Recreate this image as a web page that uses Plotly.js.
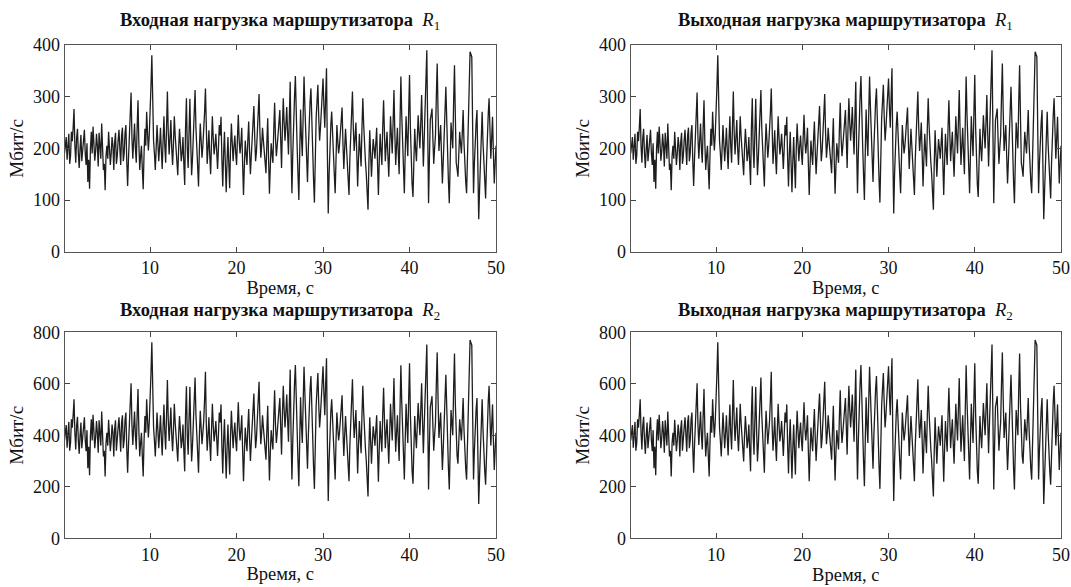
<!DOCTYPE html>
<html>
<head>
<meta charset="utf-8">
<script src="https://cdn.plot.ly/plotly-3.0.1.min.js"></script>
<style>html,body{margin:0;padding:0;background:#fff;}#chart{width:1071px;height:587px;}</style>
</head>
<body>
<div id="chart"></div>
<script>
const inR1 = [
190,205,222,178,196,228,170,186,232,214,
240,276,205,172,220,238,190,162,200,226,
175,198,215,236,190,168,210,135,178,122,
200,232,190,242,210,176,195,228,205,165,
230,212,180,248,200,158,170,119,185,205,
180,232,200,168,190,222,205,158,212,230,
170,185,215,236,200,168,225,240,175,190,
230,245,175,127,180,232,260,308,220,180,
215,248,200,172,240,293,210,158,185,205,
160,121,190,238,205,271,230,196,225,262,
320,380,260,215,190,158,200,245,210,175,
205,240,195,160,215,262,205,172,240,310,
230,188,220,255,200,168,210,262,225,205,
175,148,200,238,210,175,190,222,170,129,
240,297,200,162,230,296,210,148,180,235,
260,313,240,205,160,126,200,248,215,182,
205,228,270,316,220,170,200,235,185,150,
210,262,220,188,205,228,195,160,200,245,
225,261,180,126,190,232,170,115,175,222,
170,123,200,248,210,175,205,225,190,168,
220,265,215,190,210,240,170,110,165,215,
190,168,215,252,195,150,185,230,250,282,
220,175,195,225,260,305,230,182,205,240,
215,195,170,152,210,258,180,112,165,210,
190,172,235,288,220,185,205,238,250,274,
200,162,240,297,250,215,245,280,230,188,
260,329,200,113,190,262,300,340,250,205,
150,100,190,275,220,185,265,339,280,232,
180,135,200,262,290,316,240,180,140,95,
190,258,290,323,260,215,240,270,300,335,
280,240,300,355,190,74,150,218,245,271,
220,182,150,113,190,245,215,190,205,225,
250,279,210,160,200,238,205,175,140,110,
180,230,270,310,240,195,220,250,190,126,
180,228,195,165,240,297,245,200,175,150,
120,81,170,235,190,145,185,218,200,180,
210,240,170,110,175,228,195,168,240,293,
230,175,205,232,185,145,200,262,225,190,
250,313,230,168,205,240,190,150,250,339,
265,205,160,113,190,262,220,185,270,342,
240,150,130,106,170,238,200,175,220,264,
230,200,250,303,230,165,220,280,340,390,
240,94,180,255,265,277,220,170,200,225,
300,364,270,195,220,245,185,132,175,210,
270,319,240,180,135,94,175,250,225,200,
290,361,260,172,160,145,190,232,210,190,
230,274,210,160,135,113,185,252,320,387,
382,377,240,113,170,225,250,274,160,63,
120,175,225,271,210,160,130,103,170,232,
265,297,235,180,220,261,190,132,170,205
];
// Input load of router R2, Mbit/s, sampled every 0.1 s
const inR2 = [
380,408,440,352,392,452,340,370,462,430,
478,540,410,345,438,472,380,328,400,450,
350,395,430,470,380,338,420,272,355,245,
400,462,380,480,418,350,392,455,410,332,
458,420,360,492,400,318,340,240,370,410,
360,460,398,338,380,442,410,318,425,458,
340,372,430,470,398,336,450,478,350,380,
460,488,350,255,360,462,520,602,440,362,
430,492,400,345,478,580,420,318,370,410,
320,240,380,475,410,540,460,392,450,522,
640,761,520,430,380,318,400,488,420,350,
410,478,390,322,430,520,410,345,478,615,
460,378,440,508,400,338,420,522,450,410,
350,298,400,475,420,350,380,442,340,260,
480,590,400,325,460,588,420,298,360,470,
520,624,480,410,320,255,400,495,430,365,
410,455,540,647,440,340,400,470,370,300,
420,522,440,376,410,455,390,320,400,488,
450,520,360,252,380,462,340,232,350,442,
340,248,400,495,420,350,410,450,380,338,
440,528,430,380,420,478,340,222,330,430,
380,338,430,502,390,300,370,460,500,562,
440,350,390,450,520,608,460,365,410,478,
430,390,340,305,420,515,360,225,330,420,
380,345,470,575,440,370,410,475,500,545,
400,325,480,592,500,430,490,558,460,375,
520,655,400,228,380,522,600,673,500,410,
300,202,380,548,440,370,530,666,560,462,
360,270,400,522,580,630,480,360,280,192,
380,515,580,642,520,430,480,538,600,668,
560,478,600,699,380,145,300,435,490,540,
440,365,300,228,380,488,430,380,410,450,
500,555,420,320,400,475,410,350,280,222,
360,460,540,618,480,390,440,498,380,252,
360,455,390,330,480,592,490,400,350,300,
240,162,340,470,380,290,370,435,400,360,
420,478,340,220,350,455,390,336,480,585,
460,350,410,462,370,290,400,522,450,380,
500,622,460,336,410,478,380,300,500,672,
530,410,320,228,380,522,440,370,540,680,
480,300,260,212,340,475,400,350,440,525,
460,400,500,602,460,330,440,558,670,753,
480,190,360,510,530,552,440,340,400,450,
600,722,540,390,440,488,370,265,350,420,
540,635,480,360,270,190,350,498,450,400,
580,718,520,345,320,290,380,462,420,380,
460,545,420,320,270,228,370,502,640,770,
760,750,480,228,340,450,500,545,320,133,
240,350,450,540,420,320,260,208,340,462,
530,592,470,360,440,520,380,265,340,410
];
// Output loads look identical to the input loads in the picture
const outR1 = inR1;
const outR2 = inR2;
const time = inR1.map((_, i) => (i + 1) / 10);

const xTicks = [10, 20, 30, 40, 50];
const yTicksR1 = [0, 100, 200, 300, 400];
const yTicksR2 = [0, 200, 400, 600, 800];
const titleIn = 'Входная нагрузка маршрутизатора';
const titleOut = 'Выходная нагрузка маршрутизатора';
const xLabel = 'Время, с';
const yLabel = 'Мбит/с';

const FONT = "'Liberation Serif', serif";
const lineStyle = {color: '#1e1e1e', width: 1.3};

const traces = [
  {x: time, y: inR1, xaxis: 'x', yaxis: 'y'},
  {x: time, y: outR1, xaxis: 'x2', yaxis: 'y2'},
  {x: time, y: inR2, xaxis: 'x3', yaxis: 'y3'},
  {x: time, y: outR2, xaxis: 'x4', yaxis: 'y4'}
].map(t => Object.assign(t, {type: 'scatter', mode: 'lines', line: lineStyle, hoverinfo: 'skip', showlegend: false}));

const W = 1071, H = 587;
const dxL = [64.5 / W, 496 / W], dxR = [630.7 / W, 1061 / W];
const dyT = [1 - 251.7 / H, 1 - 45 / H], dyB = [1 - 538.3 / H, 1 - 332.3 / H];

function xax(dom, anchor) {
  return {domain: dom, anchor: anchor, range: [0.1, 50], tickvals: xTicks, ticks: 'inside', ticklen: 5,
    tickcolor: '#444', mirror: 'ticks', showline: true, linecolor: '#555', linewidth: 1,
    showgrid: false, zeroline: false, tickfont: {family: FONT, size: 18, color: '#111'},
    title: {text: xLabel, font: {family: FONT, size: 18.5, color: '#111'}, standoff: 3}};
}
function yax(dom, anchor, ticks, max) {
  return {domain: dom, anchor: anchor, range: [0, max], tickvals: ticks, ticks: 'inside', ticklen: 5,
    tickcolor: '#444', mirror: 'ticks', showline: true, linecolor: '#555', linewidth: 1,
    showgrid: false, zeroline: false, tickfont: {family: FONT, size: 18, color: '#111'},
    title: {text: yLabel, font: {family: FONT, size: 19, color: '#111'}, standoff: 4}};
}

function titleAnn(text, dom, yPix, sub) {
  return {text: '<b>' + text + '</b>  <i>R</i><sub>' + sub + '</sub>',
    xref: 'paper', yref: 'paper', x: (dom[0] + dom[1]) / 2, y: 1 - yPix / H,
    xanchor: 'center', yanchor: 'middle', showarrow: false,
    font: {family: FONT, size: 18.5, color: '#111'}};
}

const layout = {
  width: W, height: H, margin: {l: 0, r: 0, t: 0, b: 0},
  paper_bgcolor: '#fff', plot_bgcolor: '#fff',
  xaxis: xax(dxL, 'y'), yaxis: yax(dyT, 'x', yTicksR1, 400),
  xaxis2: xax(dxR, 'y2'), yaxis2: yax(dyT, 'x2', yTicksR1, 400),
  xaxis3: xax(dxL, 'y3'), yaxis3: yax(dyB, 'x3', yTicksR2, 800),
  xaxis4: xax(dxR, 'y4'), yaxis4: yax(dyB, 'x4', yTicksR2, 800),
  annotations: [
    titleAnn(titleIn, dxL, 21, '1'), titleAnn(titleOut, dxR, 21, '1'),
    titleAnn(titleIn, dxL, 311, '2'), titleAnn(titleOut, dxR, 311, '2')
  ]
};

Plotly.newPlot('chart', traces, layout, {staticPlot: true, displayModeBar: false});
</script>
</body>
</html>
